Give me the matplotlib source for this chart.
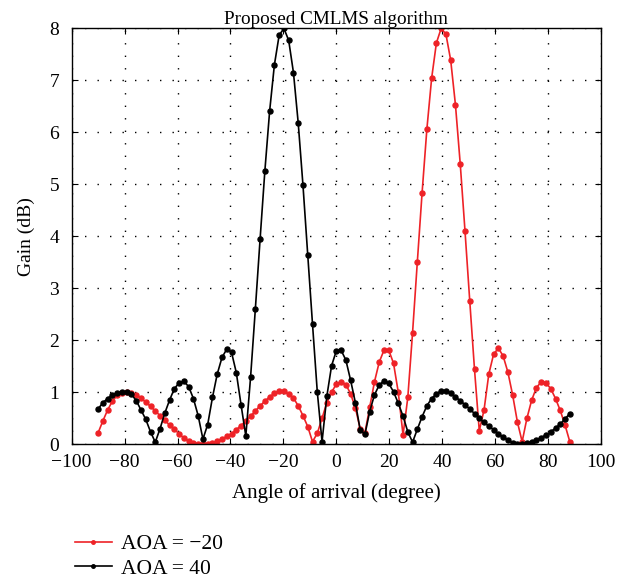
import numpy as np
import matplotlib
matplotlib.use("agg")
import matplotlib.pyplot as plt

# sampling grid: -90 deg, step 1.8 deg, 100 points
angle = -90 + 1.8 * np.arange(100)

gain_red = [0.22, 0.45, 0.66, 0.83, 0.94, 0.99, 1.01, 0.99, 0.95, 0.89,
            0.81, 0.73, 0.64, 0.55, 0.46, 0.37, 0.29, 0.20, 0.12, 0.06,
            0.03, 0.01, 0.00, 0.00, 0.02, 0.06, 0.10, 0.15, 0.20, 0.28,
            0.36, 0.45, 0.54, 0.64, 0.74, 0.83, 0.91, 0.98, 1.03, 1.02,
            0.96, 0.89, 0.74, 0.55, 0.34, 0.05, 0.21, 0.50, 0.80, 1.00,
            1.16, 1.20, 1.15, 0.97, 0.70, 0.30, 0.22, 0.71, 1.20, 1.58,
            1.81, 1.81, 1.56, 1.00, 0.18, 0.90, 2.15, 3.51, 4.84, 6.06,
            7.04, 7.72, 8.00, 7.89, 7.39, 6.53, 5.40, 4.11, 2.76, 1.44,
            0.26, 0.66, 1.35, 1.73, 1.85, 1.70, 1.39, 0.95, 0.43, 0.05,
            0.50, 0.85, 1.09, 1.20, 1.18, 1.07, 0.88, 0.65, 0.37, 0.05]

gain_black = [0.68, 0.80, 0.88, 0.95, 0.99, 1.01, 1.00, 0.96, 0.84, 0.66,
              0.48, 0.24, 0.04, 0.30, 0.60, 0.85, 1.07, 1.18, 1.21, 1.11,
              0.88, 0.55, 0.10, 0.38, 0.90, 1.35, 1.67, 1.83, 1.77, 1.38,
              0.76, 0.16, 1.29, 2.60, 3.95, 5.26, 6.41, 7.30, 7.87, 8.00,
              7.77, 7.15, 6.18, 4.98, 3.64, 2.31, 1.01, 0.05, 0.92, 1.51,
              1.80, 1.81, 1.62, 1.23, 0.80, 0.28, 0.19, 0.63, 0.95, 1.14,
              1.22, 1.17, 1.01, 0.79, 0.54, 0.24, 0.04, 0.29, 0.53, 0.74,
              0.88, 0.97, 1.03, 1.03, 0.98, 0.91, 0.84, 0.76, 0.68, 0.59,
              0.50, 0.42, 0.35, 0.28, 0.20, 0.14, 0.08, 0.03, 0.00, 0.01,
              0.02, 0.04, 0.08, 0.13, 0.18, 0.24, 0.31, 0.39, 0.49, 0.59]

plt.rcParams['font.family'] = ['Liberation Serif', 'DejaVu Serif']

fig = plt.figure(figsize=(6.34, 5.8), dpi=100)
ax = fig.add_axes([0.113, 0.234, 0.835, 0.717])

red = '#ee2227'
l1, = ax.plot(angle, gain_red, '-o', color=red, lw=1.2, ms=3.6,
              label='AOA = \u221220')
l2, = ax.plot(angle, gain_black, '-o', color='black', lw=1.2, ms=3.6,
              label='AOA = 40')

ax.set_xlim(-100, 100)
ax.set_ylim(0, 8)
ax.set_xticks(range(-100, 101, 20))
ax.set_yticks(range(0, 9))
ax.grid(True, color='black', linestyle=(0, (1, 8)), linewidth=1.0)
ax.tick_params(direction='in', top=True, right=True, length=4,
               labelsize=14)
ax.tick_params(axis='x', pad=7)
ax.tick_params(axis='y', pad=9)
for s in ax.spines.values():
    s.set_linewidth(1.0)

ax.set_xlabel('Angle of arrival (degree)', fontsize=15, labelpad=9)
ax.set_ylabel('Gain (dB)', fontsize=14, labelpad=10)
ax.set_title('Proposed CMLMS algorithm', fontsize=13.8, pad=3)

fig.legend(handles=[l1, l2], loc='upper left', bbox_to_anchor=(0.105, 0.094),
           frameon=False, fontsize=15.5, handlelength=1.7, markerscale=0.7,
           labelspacing=0.2, handletextpad=0.45, borderaxespad=0)

fig.savefig('out.png', dpi=100)
